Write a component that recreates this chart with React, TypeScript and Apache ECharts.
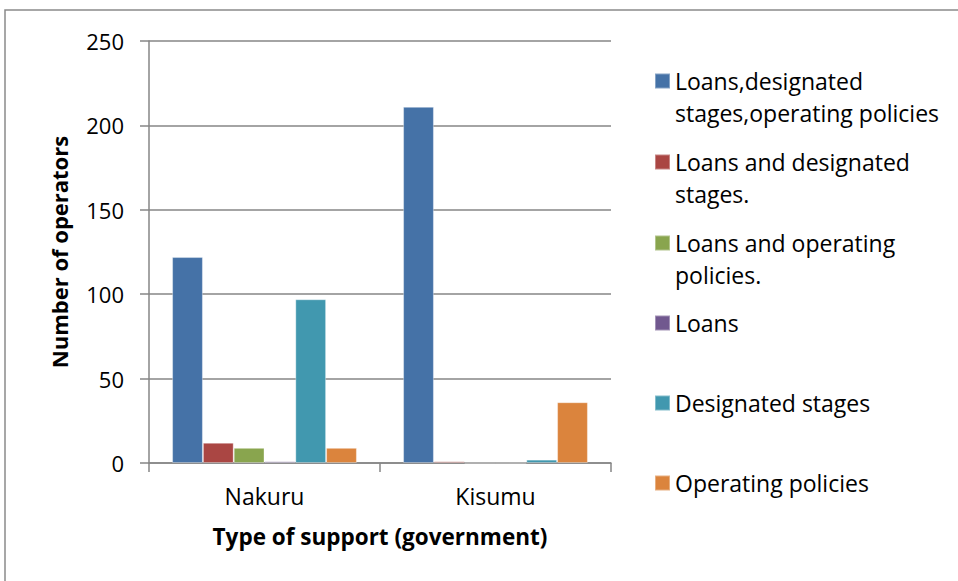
import React, { useEffect, useRef } from "react";
import * as echarts from "echarts";

const categories = ["Nakuru", "Kisumu"];
const seriesNames = [
  "Loans,designated stages,operating policies",
  "Loans and designated stages.",
  "Loans and operating policies.",
  "Loans",
  "Designated stages",
  "Operating policies",
];
const legendLabels = [
  "Loans,designated\nstages,operating policies",
  "Loans and designated\nstages.",
  "Loans and operating\npolicies.",
  "Loans",
  "Designated stages",
  "Operating policies",
];
const valuesAll = [122, 211];
const valuesLoansStages = [12, 1];
const valuesLoansPolicies = [9, 0];
const valuesLoans = [1, 0];
const valuesStages = [97, 2];
const valuesPolicies = [9, 36];
const seriesValues = [
  valuesAll,
  valuesLoansStages,
  valuesLoansPolicies,
  valuesLoans,
  valuesStages,
  valuesPolicies,
];
const colors = ["#4572A7", "#AA4643", "#89A54E", "#71588F", "#4198AF", "#DB843D"];
const yTicks = [0, 50, 100, 150, 200, 250];

const FONT = "'Open Sans', sans-serif";

export default function App() {
  const ref = useRef<HTMLDivElement>(null);
  useEffect(() => {
    document.body.style.margin = "0";
    const chart = echarts.init(ref.current!, null, { renderer: "svg" });
    const L = 32;
    const firstLineCenters = [81, 162, 243, 323, 403, 483];
    const legends = legendLabels.map((lab, i) => {
      const twoLine = lab.includes("\n");
      return {
        orient: "vertical",
        left: 654,
        top: twoLine ? firstLineCenters[i] - 1.5 * L : firstLineCenters[i] - L / 2,
        padding: 0,
        itemWidth: 15,
        itemHeight: 15,
        itemGap: 0,
        selectedMode: false,
        icon: "rect",
        data: [seriesNames[i]],
        formatter: () => (twoLine ? "\n" + lab : lab),
        textStyle: {
          fontFamily: FONT,
          fontSize: 23,
          color: "#000",
          lineHeight: L,
        },
      };
    });
    chart.setOption({
      animation: false,
      color: colors,
      backgroundColor: "#fff",
      textStyle: { fontFamily: FONT },
      grid: { left: 149, right: 347, top: 41, bottom: 118 },
      legend: legends,
      graphic: [
        {
          type: "rect",
          shape: { x: 5, y: 10, width: 1000, height: 620 },
          style: { fill: "none", stroke: "#8a8a8a", lineWidth: 1.5 },
          silent: true,
        },
      ],
      xAxis: {
        type: "category",
        data: categories,
        name: "Type of support (government)",
        nameLocation: "middle",
        nameGap: 62,
        nameTextStyle: { fontFamily: FONT, fontSize: 22.5, fontWeight: "bold", color: "#000" },
        axisLine: { lineStyle: { color: "#868686", width: 1.5 } },
        axisTick: { show: true, length: 9, alignWithLabel: false, lineStyle: { color: "#868686", width: 1.5 } },
        axisLabel: { fontFamily: FONT, fontSize: 23, color: "#000", margin: 21 },
      },
      yAxis: {
        type: "value",
        min: yTicks[0],
        max: yTicks[yTicks.length - 1],
        interval: 50,
        name: "Number of operators",
        nameLocation: "middle",
        nameGap: 79,
        nameTextStyle: { fontFamily: FONT, fontSize: 22, fontWeight: "bold", color: "#000" },
        axisLine: { show: true, lineStyle: { color: "#868686", width: 1.5 } },
        axisTick: { show: true, length: 9, lineStyle: { color: "#868686", width: 1.5 } },
        axisLabel: { fontFamily: FONT, fontSize: 22, color: "#000", margin: 25 },
        splitLine: { lineStyle: { color: "#868686", width: 1.5 } },
      },
      series: seriesNames.map((name, i) => ({
        name,
        type: "bar",
        data: seriesValues[i],
        barGap: "0%",
        barCategoryGap: "20%",
        itemStyle: { color: colors[i], borderColor: "rgba(255,255,255,0.35)", borderWidth: 1 },
      })),
    });
    return () => chart.dispose();
  }, []);
  return (
    <div
      ref={ref}
      style={{ position: "absolute", left: 0, top: 0, width: 958, height: 581 }}
    />
  );
}
